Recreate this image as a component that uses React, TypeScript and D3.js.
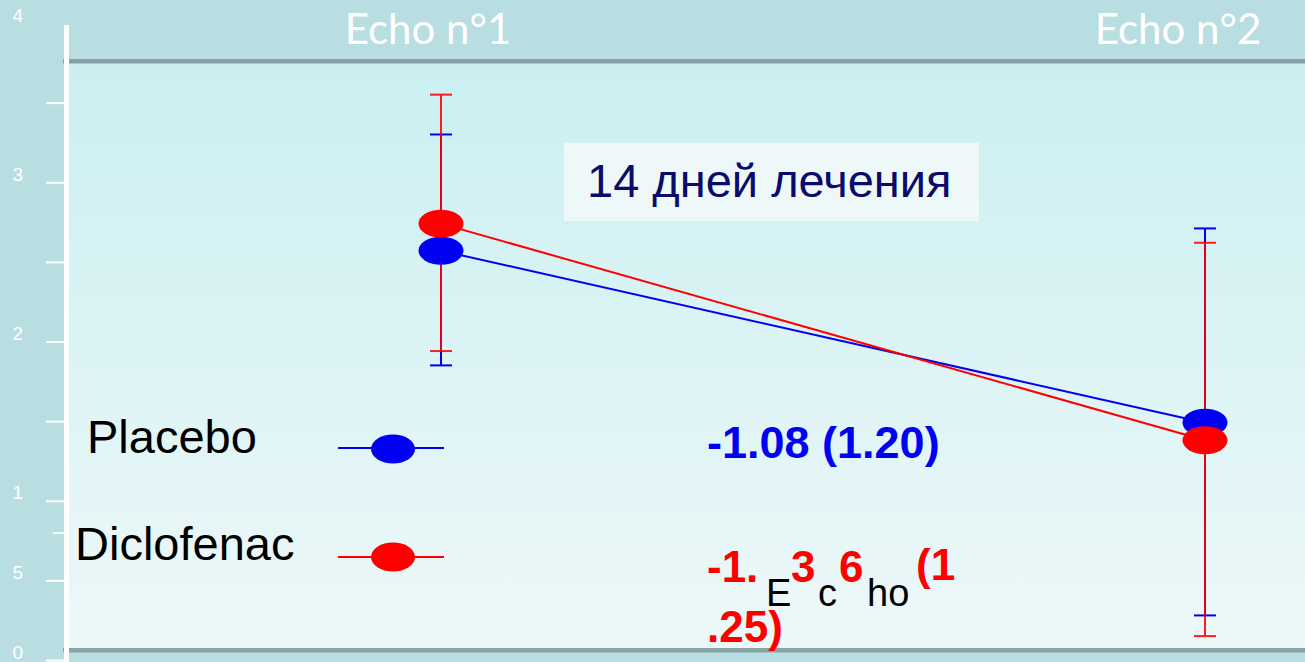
import { useRef, useEffect } from "react";
import * as d3 from "d3";

// visits (x categories)
const visits = ["Echo n°1", "Echo n°2"];

// means and error bar ends, per visit
const placeboMean = [2.57, 1.49];
const placeboLow = [1.85, 0.28];
const placeboHigh = [3.3, 2.71];

const diclofenacMean = [2.74, 1.38];
const diclofenacLow = [1.94, 0.15];
const diclofenacHigh = [3.55, 2.62];

// left axis, labels as printed on the slide
const yTickValues = [0, 0.5, 0.8, 1, 1.5, 2, 2.5, 3, 3.5, 4];
const yTickLabels = ["0", "5", "", "1", "", "2", "", "3", "", "4"];

const seriesNames = ["Placebo", "Diclofenac"];
const changeLabels = ["-1.08 (1.20)", "-1.36 (1.25)"];

const App = () => {
  const axisRef = useRef<SVGGElement>(null);
  const width = 1305;
  const height = 662;
  const panel = { left: 66, top: 63, bottom: 648 };

  const x = d3.scalePoint<string>().domain(visits).range([441, 1205]);
  const y = d3.scaleLinear().domain([0, 4]).range([660, 23]);

  const series = [
    { name: seriesNames[0], color: "#0000f2", mean: placeboMean, low: placeboLow, high: placeboHigh },
    { name: seriesNames[1], color: "#ff0000", mean: diclofenacMean, low: diclofenacLow, high: diclofenacHigh },
  ];

  const line = d3
    .line<number>()
    .x((_, i) => x(visits[i]) as number)
    .y((d) => y(d));

  useEffect(() => {
    const g = d3.select(axisRef.current);
    const axis = d3
      .axisLeft(y)
      .tickValues(yTickValues)
      .tickFormat((_, i) => yTickLabels[i])
      .tickSize(18)
      .tickPadding(23);
    g.call(axis);
    g.attr("font-size", null).attr("font-family", null);
    g.select(".domain").remove();
    g.selectAll(".tick line").attr("stroke", "#ffffff").attr("stroke-width", 2);
    g.selectAll<SVGGElement, number>(".tick")
      .filter((d) => d === 4)
      .select("line")
      .remove();
    g.selectAll<SVGGElement, number>(".tick")
      .filter((d) => d === 0.8)
      .select("line")
      .attr("x2", -11);
    g.selectAll(".tick text")
      .attr("fill", "#ffffff")
      .attr("font-family", "'Liberation Sans', Arial, sans-serif")
      .attr("font-size", 19)
      .attr("dy", "-0.1em");
  }, []);

  const capW = 11;
  const labelShift = [-13, -27];

  return (
    <svg width={width} height={height} style={{ position: "absolute", left: 0, top: 0 }}>
      <defs>
        <linearGradient id="panelFill" x1="0" y1="0" x2="0" y2="1">
          <stop offset="0%" stopColor="#cbeff1" />
          <stop offset="100%" stopColor="#eef8f9" />
        </linearGradient>
      </defs>
      <rect width={width} height={height} fill="#b8dee1" />
      <rect
        x={panel.left}
        y={panel.top}
        width={width - panel.left}
        height={panel.bottom - panel.top}
        fill="url(#panelFill)"
      />
      <rect x={63} y={59} width={width - 63} height={4.5} fill="#86a2a5" />
      <rect x={63} y={panel.bottom} width={width - 63} height={4.5} fill="#87a3a6" />

      {/* y axis */}
      <rect x={64} y={25} width={5} height={height - 25} fill="#ffffff" />
      <g ref={axisRef} transform="translate(64,0)" />

      {/* visit labels */}
      {visits.map((v, i) => (
        <text
          key={v}
          x={(x(v) as number) + labelShift[i]}
          y={44}
          textAnchor="middle"
          fill="#ffffff"
          fontFamily="Lato, 'Open Sans', sans-serif"
          fontSize={42}
        >
          {v}
        </text>
      ))}

      {/* treatment duration box */}
      <rect x={564} y={143} width={415} height={78} fill="#eef8f8" />
      <text
        x={587}
        y={197}
        fill="#0b0b6b"
        fontFamily="Liberation Sans, Arial, sans-serif"
        fontSize={47}
      >
        14 дней лечения
      </text>

      {/* legend */}
      {series.map((s, i) => (
        <g key={s.name}>
          <text
            x={i === 0 ? 87 : 75}
            y={i === 0 ? 453 : 560}
            fill="#000000"
            fontFamily="Liberation Sans, Arial, sans-serif"
            fontSize={47}
          >
            {s.name}
          </text>
          <line
            x1={338}
            x2={444}
            y1={i === 0 ? 448 : 557}
            y2={i === 0 ? 448 : 557}
            stroke={s.color}
            strokeWidth={2}
          />
          <ellipse cx={393} cy={i === 0 ? 449 : 557} rx={22} ry={14.5} fill={s.color} />
        </g>
      ))}

      {/* change from baseline */}
      <text
        x={707}
        y={458}
        fill="#0000f2"
        fontWeight="bold"
        fontFamily="Liberation Sans, Arial, sans-serif"
        fontSize={45}
      >
        {changeLabels[0]}
      </text>
      <g fontFamily="Liberation Sans, Arial, sans-serif" fontSize={44}>
        <g fill="#ff0000" fontWeight="bold">
          <text x={707} y={582}>-1.</text>
          <text x={791} y={582}>3</text>
          <text x={839} y={582}>6</text>
          <text x={916} y={580}>(1</text>
          <text x={707} y={642}>.25)</text>
        </g>
        <g fill="#000000" fontSize={38}>
          <text x={766} y={606}>E</text>
          <text x={818} y={606}>c</text>
          <text x={867} y={606}>ho</text>
        </g>
      </g>

      {/* error bars */}
      {series.map((s) => (
        <g key={s.name + "-err"} stroke={s.color} strokeWidth={2} opacity={s.name === "Diclofenac" ? 0.88 : 1}>
          {visits.map((v, i) => {
            const cx = x(v) as number;
            return (
              <g key={v}>
                <line x1={cx} x2={cx} y1={y(s.low[i])} y2={y(s.high[i])} />
                <line x1={cx - capW} x2={cx + capW} y1={y(s.high[i])} y2={y(s.high[i])} />
                <line x1={cx - capW} x2={cx + capW} y1={y(s.low[i])} y2={y(s.low[i])} />
              </g>
            );
          })}
        </g>
      ))}

      {/* mean lines and markers */}
      {series.map((s) => (
        <g key={s.name + "-line"}>
          <path d={line(s.mean) ?? ""} fill="none" stroke={s.color} strokeWidth={2} />
          {s.mean.map((m, i) => (
            <ellipse key={i} cx={x(visits[i]) as number} cy={y(m)} rx={22.5} ry={14} fill={s.color} />
          ))}
        </g>
      ))}
    </svg>
  );
};

export default App;
